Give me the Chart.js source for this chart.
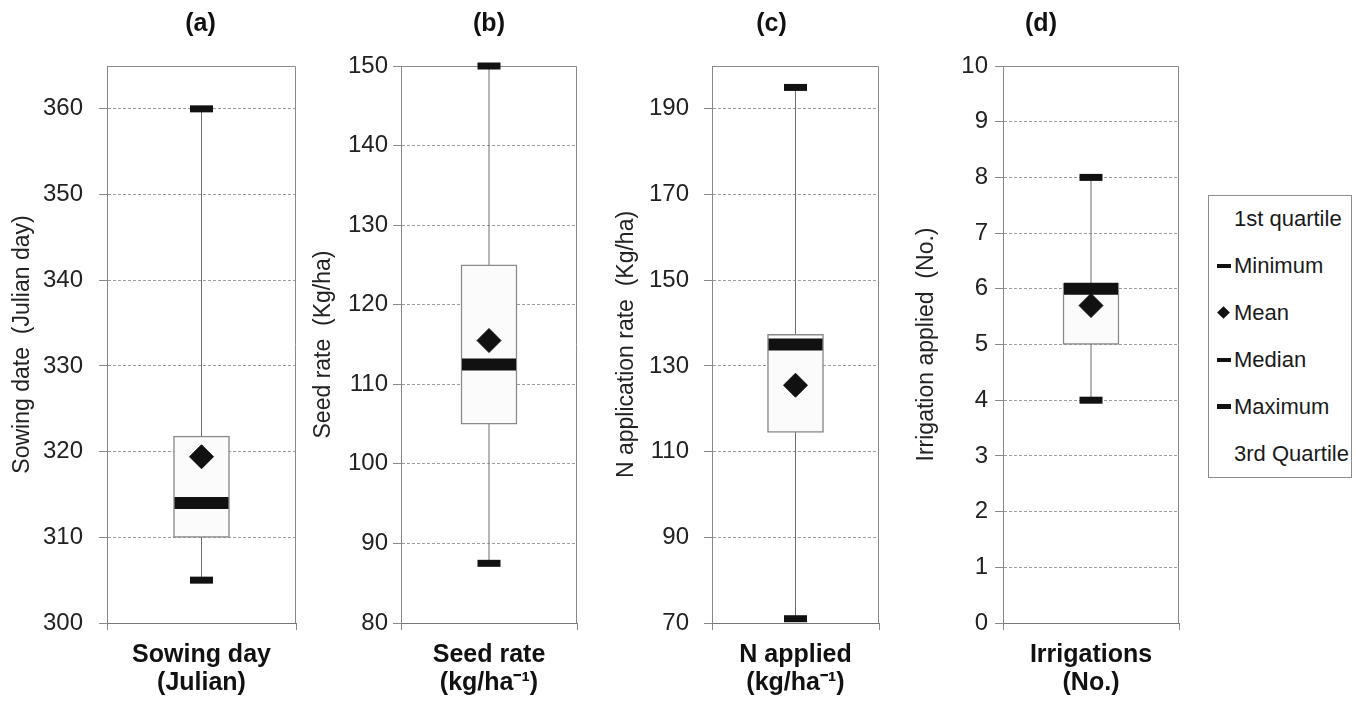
<!DOCTYPE html>
<html>
<head>
<meta charset="utf-8">
<script src="https://cdn.jsdelivr.net/npm/chart.js@4.4.1/dist/chart.umd.min.js"></script>
<style>
  body { margin: 0; background: #fff; }
  #figure { position: relative; width: 1356px; height: 702px; overflow: hidden; font-family: "Liberation Sans", Arial, sans-serif; }
  #figure canvas { position: absolute; top: 0; }
  #legend { position: absolute; left: 1208px; top: 195px; width: 144px; height: 283px; box-sizing: border-box; border: 1px solid #8c8c8c; background: #fff; }
  .entry { position: absolute; left: 25px; height: 26px; line-height: 26px; font-size: 22px; color: #1a1a1a; white-space: nowrap; }
  .mark { position: absolute; left: -17px; background: #111; }
  .mark.dash { width: 14px; height: 4px; top: 11px; }
  .mark.bar { width: 14px; height: 5px; top: 10px; }
  .mark.diamond { width: 9px; height: 9px; top: 8px; left: -15px; transform: rotate(45deg); }
</style>
</head>
<body>
<div id="figure">
  <div id="legend"></div>
</div>
<script>
const panelLabels = ['(a)', '(b)', '(c)', '(d)']
const categories = ['Sowing day', 'Seed rate', 'N applied', 'Irrigations']
const categoryUnits = ['(Julian)', '(kg/ha\u207B\u00B9)', '(kg/ha\u207B\u00B9)', '(No.)']
const axisTitles = ['Sowing date  (Julian day)', 'Seed rate  (Kg/ha)', 'N application rate  (Kg/ha)', 'Irrigation applied  (No.)']

const minimum = [305, 87.5, 71, 4]
const firstQuartile = [310, 105, 114.5, 5]
const median = [314, 112.5, 135, 6]
const mean = [319.4, 115.5, 125.5, 5.7]
const thirdQuartile = [321.8, 125, 137.4, 6.1]
const maximum = [360, 150, 195, 8]

const axisMin = [300, 80, 70, 0]
const axisMax = [365, 150, 200, 10]
const yTicks = [
  [300, 310, 320, 330, 340, 350, 360],
  [80, 90, 100, 110, 120, 130, 140, 150],
  [70, 90, 110, 130, 150, 170, 190],
  [0, 1, 2, 3, 4, 5, 6, 7, 8, 9, 10],
]

const legendLabels = ['1st quartile', 'Minimum', 'Mean', 'Median', 'Maximum', '3rd Quartile']
const legendMarks = ['', 'dash', 'diamond', 'dash', 'bar', '']

// where each panel sits on the page
const panelLayout = [
  { left: 0, width: 310, axisWidth: 107, titlePad: 9, tickPad: 16, padRight: 14, titleShift: -1 },
  { left: 300, width: 290, axisWidth: 101, titlePad: 10, tickPad: 5, padRight: 13, titleShift: 0 },
  { left: 590, width: 300, axisWidth: 122, titlePad: 23, tickPad: 15, padRight: 11, titleShift: -24 },
  { left: 890, width: 300, axisWidth: 113, titlePad: 23, tickPad: 7, padRight: 11, titleShift: -50 },
]

Chart.defaults.font.family = '"Liberation Sans", Arial, sans-serif'
Chart.defaults.color = '#222'

// top/right edges of the plot frame and the panel letter above it
const panelDecor = {
  id: 'panelDecor',
  beforeDatasetsDraw(chart) {
    const { ctx, chartArea } = chart
    const left = Math.round(chartArea.left)
    const top = Math.round(chartArea.top) + 0.5
    const right = Math.round(chartArea.right) - 0.5
    ctx.save()
    ctx.strokeStyle = '#8a8a8a'
    ctx.lineWidth = 1
    ctx.beginPath()
    ctx.moveTo(left, top)
    ctx.lineTo(right, top)
    ctx.lineTo(right, Math.round(chartArea.bottom))
    ctx.stroke()
    ctx.restore()
  },
  afterDraw(chart, args, opts) {
    const { ctx, chartArea } = chart
    ctx.save()
    ctx.font = 'bold 25px "Liberation Sans", Arial, sans-serif'
    ctx.fillStyle = '#111'
    ctx.textAlign = 'center'
    ctx.textBaseline = 'middle'
    ctx.fillText(opts.text, (chartArea.left + chartArea.right) / 2 + opts.shift, 24)
    ctx.restore()
  },
}

const figure = document.getElementById('figure')

panelLabels.forEach((panel, i) => {
  const layout = panelLayout[i]
  const cat = categories[i]
  const canvas = document.createElement('canvas')
  canvas.width = layout.width
  canvas.height = 702
  canvas.style.left = layout.left + 'px'
  figure.appendChild(canvas)

  const marker = (label, value, style, radius, width, order) => ({
    type: 'line',
    label: label,
    data: [value],
    showLine: false,
    pointStyle: style,
    pointRadius: radius,
    pointBorderWidth: width,
    pointBorderColor: '#111',
    pointBackgroundColor: '#111',
    clip: false,
    order: order,
  })

  new Chart(canvas.getContext('2d'), {
    type: 'bar',
    data: {
      labels: [cat],
      datasets: [
        {
          type: 'line',
          label: 'Range',
          data: [{ x: cat, y: minimum[i] }, { x: cat, y: maximum[i] }],
          borderColor: '#6e6e6e',
          borderWidth: 1,
          pointRadius: 0,
          order: 6,
        },
        {
          label: 'Quartiles',
          data: [[firstQuartile[i], thirdQuartile[i]]],
          backgroundColor: '#fbfbfb',
          borderColor: '#8a8a8a',
          borderWidth: 1.5,
          borderSkipped: false,
          barThickness: 56,
          order: 5,
        },
        marker('Median', median[i], 'line', 27, 12, 4),
        marker('Minimum', minimum[i], 'line', 11.5, 7, 3),
        marker('Maximum', maximum[i], 'line', 11.5, 7, 2),
        marker('Mean', mean[i], 'rectRot', 12, 1, 1),
      ],
    },
    options: {
      responsive: false,
      animation: false,
      events: [],
      layout: {
        autoPadding: false,
        padding: { left: 0, top: 66, right: layout.padRight, bottom: 0 },
      },
      plugins: {
        legend: { display: false },
        tooltip: { enabled: false },
        panelDecor: { text: panel, shift: layout.titleShift },
      },
      scales: {
        x: {
          offset: true,
          grid: { display: true, offset: true, drawOnChartArea: false, tickLength: 7, color: '#888' },
          border: { color: '#777', width: 1 },
          ticks: { display: false },
          title: {
            display: true,
            text: [cat, categoryUnits[i]],
            color: '#111',
            font: { size: 25, weight: 'bold', lineHeight: 1.12 },
            padding: { top: 0, bottom: 5 },
          },
          afterFit: (scale) => { scale.height = 79 },
        },
        y: {
          min: axisMin[i],
          max: axisMax[i],
          afterBuildTicks: (scale) => {
            scale.ticks = yTicks[i].map((v) => ({ value: v }))
          },
          ticks: { padding: layout.tickPad, color: '#222', font: { size: 24 } },
          grid: { color: '#9c9c9c', tickColor: '#888', tickLength: 8 },
          border: { color: '#888', width: 1, dash: [3, 2] },
          title: {
            display: true,
            text: axisTitles[i],
            color: '#222',
            font: { size: 23 },
            padding: { top: layout.titlePad, bottom: 0 },
          },
          afterFit: (scale) => { scale.width = layout.axisWidth },
        },
      },
    },
    plugins: [panelDecor],
  })
})

// legend box to the right of panel (d)
const legend = document.getElementById('legend')
legendLabels.forEach((text, i) => {
  const entry = document.createElement('div')
  entry.className = 'entry'
  entry.style.top = (10 + 47 * i) + 'px'
  if (legendMarks[i]) {
    const mark = document.createElement('span')
    mark.className = 'mark ' + legendMarks[i]
    entry.appendChild(mark)
  }
  entry.appendChild(document.createTextNode(text))
  legend.appendChild(entry)
})
</script>
</body>
</html>
